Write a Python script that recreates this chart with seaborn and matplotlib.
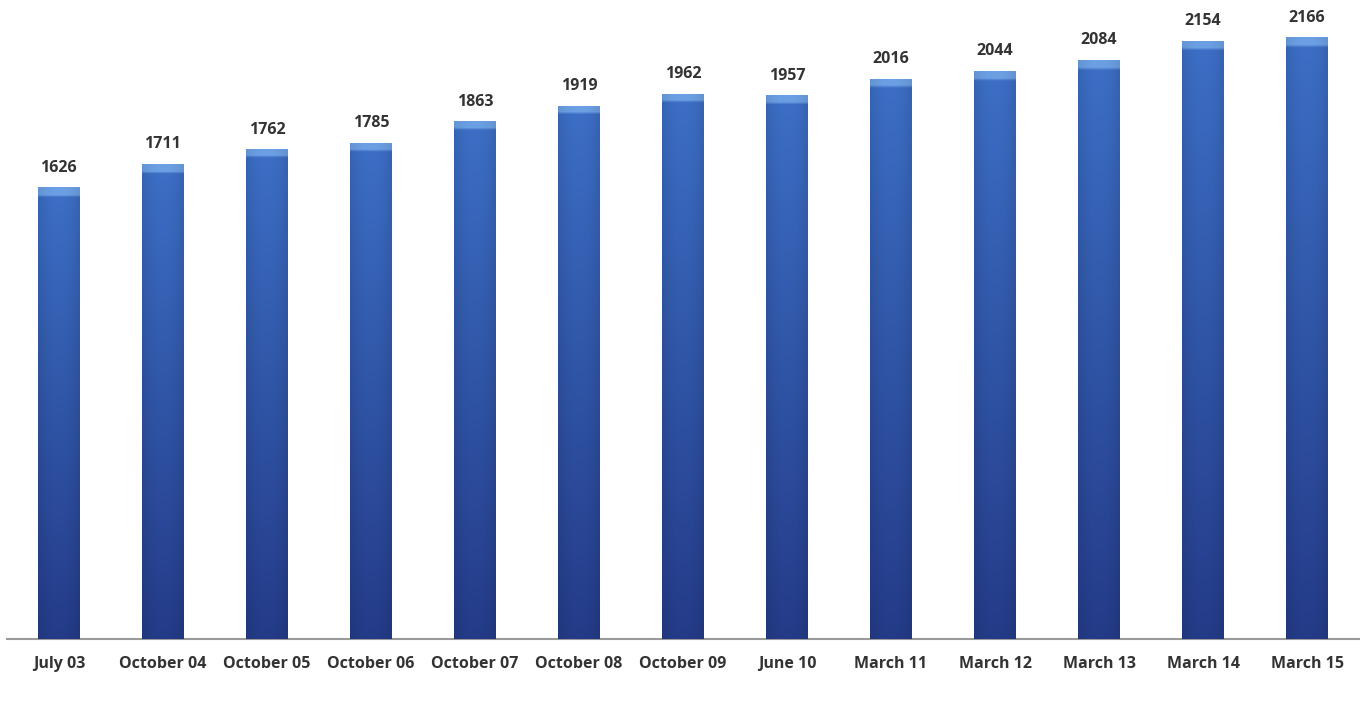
import numpy as np
import pandas as pd
import matplotlib
matplotlib.use("Agg")
import matplotlib.pyplot as plt
import seaborn as sns

categories = ["July 03", "October 04", "October 05", "October 06", "October 07",
              "October 08", "October 09", "June 10", "March 11", "March 12",
              "March 13", "March 14", "March 15"]
values = [1626, 1711, 1762, 1785, 1863, 1919, 1962, 1957, 2016, 2044, 2084, 2154, 2166]

df = pd.DataFrame({"period": categories, "count": values})

sns.set_theme(style="white")
plt.rcParams["font.family"] = ["Open Sans", "DejaVu Sans"]

fig = plt.figure(figsize=(13.66, 7.28), dpi=100)
ax = fig.add_axes([0.005, 0.1223, 0.99, 0.8777])

sns.barplot(data=df, x="period", y="count", color="#2f55a8", width=0.40,
            saturation=1, ax=ax, zorder=2)

ax.set_xlim(-0.5, len(categories) - 0.5)
ax.set_ylim(0, 2300)

# gradient fill for each bar
def make_grad(h_units):
    ny, nx = 200, 60
    xs = np.linspace(-1, 1, nx)
    hprof = 1 - 0.35 * np.abs(xs) ** 2.2  # darker edges
    ys = np.linspace(0, 1, ny)  # 0 bottom, 1 top
    bottom = np.array([0x24, 0x3b, 0x88]) / 255
    top = np.array([0x3c, 0x6f, 0xc6]) / 255
    col = bottom[None, None, :] + (top - bottom)[None, None, :] * ys[:, None, None]
    img = col * (0.72 + 0.28 * hprof[None, :, None] / 1.0)
    img = np.clip(img, 0, 1)
    # top cap
    cap = 26.0 / h_units
    capmask = ys > 1 - cap
    capcol = np.array([0x6c, 0xa0, 0xe4]) / 255
    capprof = 0.75 + 0.25 * hprof
    img[capmask] = np.clip(capcol[None, None, :] * capprof[None, :, None], 0, 1)
    return img[::-1]

for patch in ax.patches:
    x0, y0 = patch.get_x(), patch.get_y()
    w, h = patch.get_width(), patch.get_height()
    im = ax.imshow(make_grad(h), extent=[x0, x0 + w, y0, y0 + h], aspect="auto",
                   zorder=3, interpolation="bilinear")
    im.set_clip_path(patch)

ax.set_xlim(-0.5, len(categories) - 0.5)
ax.set_ylim(0, 2300)

for i, v in enumerate(values):
    ax.text(i, v + 42, str(v), ha="center", va="bottom", fontsize=11.5,
            fontweight="bold", color="#333333")

ax.set_xlabel("")
ax.set_ylabel("")
ax.set_yticks([])
ax.tick_params(axis="x", length=0, pad=12, labelsize=11.5, labelcolor="#333333")
for lab in ax.get_xticklabels():
    lab.set_fontweight("bold")
for s in ["top", "right", "left"]:
    ax.spines[s].set_visible(False)
ax.spines["bottom"].set_color("#9a9a9a")
ax.spines["bottom"].set_linewidth(1.5)

fig.savefig("out.png", dpi=100, facecolor="white")
